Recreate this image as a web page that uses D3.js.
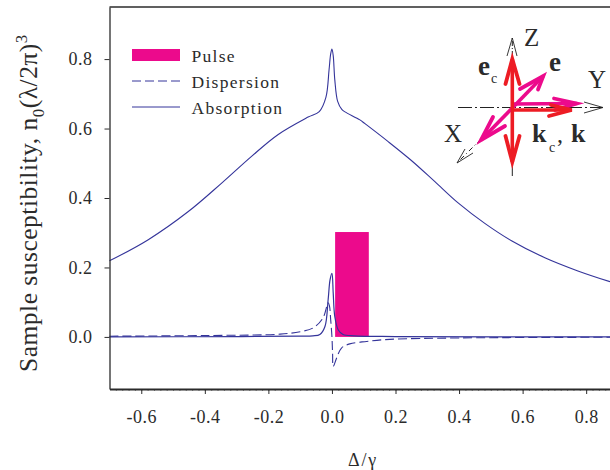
<!DOCTYPE html>
<html>
<head>
<meta charset="utf-8">
<script src="https://cdn.jsdelivr.net/npm/d3@7"></script>
<style>
  html, body { margin: 0; padding: 0; background: #fff; overflow: hidden; }
  text { font-family: "Liberation Serif", serif; fill: #2b2b2b; }
  .tick text { font-size: 18px; letter-spacing: 0.5px; }
  .tick line, .domain { stroke: #2b2b2b; }
</style>
</head>
<body>
<svg id="chart" width="610" height="470"></svg>
<script>
const xTicks = [-0.6, -0.4, -0.2, 0, 0.2, 0.4, 0.6, 0.8];
const yTicks = [0, 0.2, 0.4, 0.6, 0.8];
const legendLabels = ["Pulse", "Dispersion", "Absorption"];

const absorptionX = [-0.7, -0.578, -0.452, -0.347, -0.253, -0.169, -0.075, -0.04, -0.019, -0.009, -0.004, 0, 0.004, 0.009, 0.018, 0.031, 0.041, 0.088, 0.104, 0.176, 0.25, 0.324, 0.397, 0.481, 0.565, 0.67, 0.774, 0.875];
const absorptionY = [0.219, 0.28, 0.361, 0.443, 0.52, 0.583, 0.633, 0.649, 0.69, 0.77, 0.815, 0.829, 0.81, 0.74, 0.678, 0.655, 0.648, 0.625, 0.614, 0.563, 0.508, 0.447, 0.386, 0.327, 0.277, 0.228, 0.19, 0.159];

const narrowX = [-0.7, -0.3, -0.1, -0.06, -0.038, -0.022, -0.012, -0.006, 0, 0.004, 0.009, 0.02, 0.035, 0.07, 0.2, 0.875];
const narrowY = [0, 0.001, 0.002, 0.003, 0.007, 0.03, 0.107, 0.164, 0.183, 0.126, 0.058, 0.02, 0.007, 0.003, 0.001, 0];

const dispersionX = [-0.7, -0.4, -0.163, -0.1, -0.059, -0.028, -0.012, -0.008, -0.004, 0, 0.002, 0.004, 0.015, 0.03, 0.056, 0.109, 0.182, 0.4, 0.875];
const dispersionY = [0.002, 0.004, 0.008, 0.015, 0.026, 0.055, 0.098, 0.09, 0.05, 0, -0.047, -0.085, -0.06, -0.032, -0.02, -0.013, -0.007, -0.003, -0.001];

const pulseX = [0.01, 0.116];
const pulseTop = 0.302;

const lineColor = "#34349a";
const pulseColor = "#ec0a8c";
const redColor = "#ed1c24";

const svg = d3.select("#chart");
const x = d3.scaleLinear().domain([-0.7, 0.875]).range([109.5, 610]);
const y = d3.scaleLinear().domain([-0.15, 0.95]).range([389, 7]);

// pulse goes under the curves
svg.append("rect")
  .attr("x", x(pulseX[0]))
  .attr("y", y(pulseTop))
  .attr("width", x(pulseX[1]) - x(pulseX[0]))
  .attr("height", y(0) - y(pulseTop))
  .attr("fill", pulseColor);

const line = d3.line().x(d => x(d[0])).y(d => y(d[1])).curve(d3.curveCatmullRom.alpha(0.5));

svg.append("path")
  .attr("d", line(d3.zip(absorptionX, absorptionY)))
  .attr("fill", "none").attr("stroke", lineColor).attr("stroke-width", 1.1);
svg.append("path")
  .attr("d", line(d3.zip(narrowX, narrowY)))
  .attr("fill", "none").attr("stroke", lineColor).attr("stroke-width", 1.2);
svg.append("path")
  .attr("d", line(d3.zip(dispersionX, dispersionY)))
  .attr("fill", "none").attr("stroke", lineColor).attr("stroke-width", 1.1)
  .attr("stroke-dasharray", "9,4");

// axes
const minorTicks = d3.range(-0.68, 0.875, 0.02);
svg.append("g")
  .attr("transform", "translate(0,389)")
  .call(d3.axisBottom(x).tickValues(minorTicks).tickSize(2).tickSizeOuter(0).tickFormat(""))
  .call(g => g.select(".domain").attr("stroke-width", 2))
  .call(g => g.selectAll(".tick line").attr("stroke-width", 0.5));
svg.append("g")
  .attr("transform", "translate(0,389)")
  .call(d3.axisBottom(x).tickValues(xTicks).tickSize(5).tickSizeOuter(0).tickPadding(16).tickFormat(d => d.toFixed(1)))
  .call(g => g.select(".domain").remove());
svg.append("g")
  .attr("transform", "translate(109.5,0)")
  .call(d3.axisLeft(y).tickValues(yTicks).tickSize(5).tickSizeOuter(0).tickPadding(12).tickFormat(d => d.toFixed(1)))
  .call(g => g.select(".domain").attr("stroke-width", 1.3));
svg.append("line")
  .attr("x1", 109.5).attr("x2", 610).attr("y1", 7).attr("y2", 7)
  .attr("stroke", "#2b2b2b").attr("stroke-width", 1.3);

// axis titles
svg.append("text")
  .attr("x", 348).attr("y", 466)
  .style("font-size", "18px").style("letter-spacing", "1.8px")
  .text("Δ/γ");

const yTitle = svg.append("text")
  .attr("transform", "translate(37,372) rotate(-90)")
  .style("font-size", "25.5px").style("letter-spacing", "0.5px");
yTitle.append("tspan").text("Sample susceptibility, n");
yTitle.append("tspan").attr("dy", 7).style("font-size", "17px").text("0");
yTitle.append("tspan").attr("dy", -7).text("(λ/2π)");
yTitle.append("tspan").attr("dy", -10).style("font-size", "17px").text("3");

// legend
const legend = svg.append("g").style("font-size", "17.5px").style("letter-spacing", "1.3px");
legend.append("rect").attr("x", 132).attr("y", 49).attr("width", 48).attr("height", 12).attr("fill", pulseColor);
legend.append("line").attr("x1", 132).attr("x2", 180).attr("y1", 81).attr("y2", 81)
  .attr("stroke", lineColor).attr("stroke-width", 1).attr("stroke-dasharray", "9,4");
legend.append("line").attr("x1", 132).attr("x2", 180).attr("y1", 107).attr("y2", 107)
  .attr("stroke", lineColor).attr("stroke-width", 1);
legendLabels.forEach((label, i) => {
  legend.append("text").attr("x", 191.5).attr("y", 62 + i * 26).text(label);
});

// polarisation sketch, top right
const sketch = svg.append("g");

function axisLine(x1, y1, x2, y2, dash) {
  sketch.append("line")
    .attr("x1", x1).attr("y1", y1).attr("x2", x2).attr("y2", y2)
    .attr("stroke", "#222").attr("stroke-width", 1)
    .attr("stroke-dasharray", dash);
}

function openHead(tip, a, b) {
  sketch.append("path")
    .attr("d", d3.line()([a, tip, b]))
    .attr("fill", "none").attr("stroke", "#222").attr("stroke-width", 0.9);
}

function bigArrow(from, tip, a, b, color) {
  sketch.append("line")
    .attr("x1", from[0]).attr("y1", from[1]).attr("x2", tip[0]).attr("y2", tip[1])
    .attr("stroke", color).attr("stroke-width", 3.6);
  sketch.append("path")
    .attr("d", d3.line()([a, tip, b]))
    .attr("fill", "none").attr("stroke", color).attr("stroke-width", 3.8)
    .attr("stroke-linecap", "round").attr("stroke-linejoin", "miter");
}

axisLine(458, 107.5, 603, 107.5, "14,3,2,3");
axisLine(512.3, 163, 512.3, 176, null);
axisLine(512.3, 56, 512.3, 38, "5,2,1,2");
axisLine(481, 139, 457, 163, "5,3,1,3");
openHead([512.3, 38], [507, 56], [517, 56]);
openHead([603, 107.5], [584, 102], [584, 113]);
openHead([457, 163], [465, 149], [473, 153]);

bigArrow([512.3, 108], [543.3, 76], [520, 89], [538, 89.5], pulseColor);
bigArrow([512.3, 104], [576.7, 103.5], [554, 98.5], [555, 110], pulseColor);
bigArrow([512.3, 108], [481, 140], [493, 117], [505, 126], pulseColor);
bigArrow([512.3, 110], [571.7, 110], [549, 116], [551, 105], redColor);
bigArrow([512.3, 108], [512.3, 59], [505.5, 84], [519.5, 84], redColor);
bigArrow([512.3, 108], [512.3, 162], [505.5, 136], [519.5, 136], redColor);

function sketchText(tx, ty, size, weight, label) {
  sketch.append("text").attr("x", tx).attr("y", ty)
    .style("font-size", size + "px").style("font-weight", weight).text(label);
}

sketchText(524, 46, 25, "normal", "Z");
sketchText(588, 88, 25, "normal", "Y");
sketchText(444, 142, 25, "normal", "X");
sketchText(478, 75, 27, "bold", "e");
sketchText(491, 83, 14, "normal", "c");
sketchText(549, 71, 27, "bold", "e");
sketchText(532, 142, 26, "bold", "k");
sketchText(549, 152, 14, "normal", "c");
sketchText(557, 142, 24, "normal", ",");
sketchText(571, 142, 26, "bold", "k");
</script>
</body>
</html>
